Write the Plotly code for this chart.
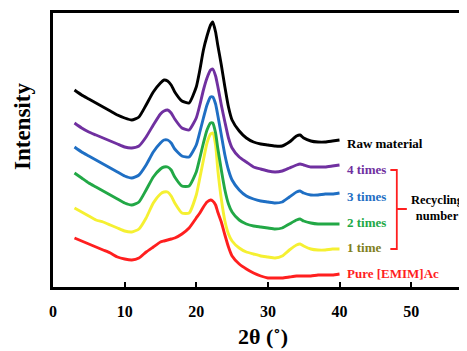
import plotly.graph_objects as go

two_theta = [3, 4, 5, 6, 7, 8, 9, 10, 11, 12, 13, 14, 15, 15.5, 16, 16.5, 17, 18, 19, 20,
             20.5, 21, 21.5, 22, 22.3, 22.7, 23, 23.5, 24, 24.5, 25, 26, 27, 28, 29, 30,
             31, 32, 33, 34, 34.5, 35, 36, 37, 38, 39, 40]

raw_material = [197, 192, 188, 184, 180, 176, 172, 169, 167, 170, 182, 195, 204, 207, 206, 202, 195,
                186, 184, 200, 217, 237, 251, 262, 265, 255, 242, 222, 200, 180, 167, 156, 149, 145,
                143, 142, 141, 141, 145, 151, 152, 149, 146, 145, 145, 146, 147]
times_4 = [164, 159, 155, 152, 149, 146, 143, 140, 139, 141, 150, 162, 173, 176, 177, 174, 168,
           159, 157, 169, 182, 197, 209, 217, 218, 211, 201, 182, 165, 149, 139, 130, 125, 120,
           118, 116, 115, 116, 119, 122, 123, 122, 120, 120, 120, 121, 122]
times_3 = [140, 135, 131, 127, 123, 119, 115, 111, 109, 112, 122, 135, 144, 147, 147, 144, 138,
           131, 130, 142, 155, 169, 182, 190, 190, 183, 172, 152, 132, 117, 107, 97, 91, 88,
           86, 85, 84, 85, 90, 95, 96, 94, 92, 92, 93, 93, 94]
times_2 = [114, 109, 104, 100, 96, 92, 88, 84, 82, 85, 97, 110, 118, 120, 120, 117, 110,
           101, 101, 115, 129, 144, 157, 164, 164, 154, 139, 117, 97, 83, 75, 67, 63, 61,
           60, 59, 58, 59, 63, 67, 68, 66, 64, 63, 63, 63, 63]
time_1 = [79, 75, 71, 67, 65, 62, 59, 56, 55, 58, 69, 84, 93, 95, 95, 91, 84,
          74, 74, 92, 109, 127, 144, 153, 154, 142, 118, 88, 66, 53, 46, 39, 35, 33,
          31, 30, 29, 31, 37, 42, 43, 41, 38, 37, 37, 38, 38]
pure_emimac = [49, 46, 43, 40, 37, 34, 30, 28, 27, 29, 35, 40, 45, 46, 47, 48, 49,
               53, 59, 69, 74, 80, 85, 87, 86, 82, 75, 65, 52, 40, 31, 23, 18, 14,
               11, 9, 9, 9, 10, 11, 11, 11, 11, 12, 12, 12, 13]

series_names = ["Pure [EMIM]Ac", "1 time", "2 times", "3 times", "4 times", "Raw material"]
series_values = [pure_emimac, time_1, times_2, times_3, times_4, raw_material]
line_colors = ["#ff1f1f", "#f5f032", "#22a846", "#1f6fc4", "#7030a0", "#000000"]
label_colors = ["#ff1f1f", "#808020", "#22a846", "#1f6fc4", "#7030a0", "#000000"]
label_y = [14, 40, 65, 91, 118, 144]
xticks = [0, 10, 20, 30, 40, 50]

SERIF = "Liberation Serif, Times New Roman, serif"

# the page body has an 8px margin, so the figure is drawn offset by (8, 8)
OFF = 8
W, H = 467 - OFF, 351 - OFF
ml, mt, mb = 53 - OFF, 13 - OFF, 64
plot_w = W - ml
plot_h = H - mt - mb


def px_to_paper(px, py):
    # px, py in window pixels
    return (px - OFF - ml) / plot_w, 1 - (py - OFF - mt) / plot_h


fig = go.Figure()
for name, vals, col in zip(series_names, series_values, line_colors):
    fig.add_trace(go.Scatter(x=two_theta, y=vals, mode="lines", name=name,
                             line=dict(color=col, width=2.9, shape="spline", smoothing=0.5),
                             showlegend=False))

for name, ly, col in zip(series_names, label_y, label_colors):
    fig.add_annotation(x=40.8, y=ly, xref="x", yref="y", text=name, showarrow=False,
                       xanchor="left", yanchor="middle",
                       font=dict(family=SERIF, size=13, color=col, weight="bold"))

# bracket
fig.add_shape(type="path", xref="x", yref="y",
              path="M 47.1 117 L 48.0 117 L 48.0 38 L 47.1 38 M 48.0 78 L 49.4 78",
              line=dict(color="#ff1f1f", width=1.8))
rx, ry = px_to_paper(437, 208)
fig.add_annotation(x=rx, y=ry, xref="paper", yref="paper", text="Recycling<br>number",
                   showarrow=False, xanchor="center", yanchor="middle", borderpad=0,
                   font=dict(family=SERIF, size=12.5, color="#000000", weight="bold"))

ix, iy = px_to_paper(22, 127)
fig.add_annotation(x=ix, y=iy, xref="paper", yref="paper", text="Intensity",
                   showarrow=False, textangle=-90, xanchor="center", yanchor="middle",
                   font=dict(family=SERIF, size=23, color="#000000", weight="bold"))
tx, ty = px_to_paper(263, 336)
fig.add_annotation(x=tx, y=ty, xref="paper", yref="paper", text="2θ (˚)",
                   showarrow=False, xanchor="center", yanchor="middle",
                   font=dict(family=SERIF, size=22, color="#000000", weight="bold"))

fig.update_layout(
    width=W, height=H,
    margin=dict(l=ml, r=0, t=mt, b=mb, autoexpand=False),
    plot_bgcolor="white", paper_bgcolor="white",
    xaxis=dict(range=[0, 57.8], tickvals=xticks, ticktext=[str(t) for t in xticks],
               automargin=False,
               showgrid=False, zeroline=False, showline=True, linecolor="black", linewidth=3,
               mirror=True, ticks="inside", ticklen=5, tickwidth=2, tickcolor="black",
               ticklabelstandoff=8,
               tickfont=dict(family=SERIF, size=16, color="black", weight="bold")),
    yaxis=dict(range=[0, 274], showticklabels=False, showgrid=False, zeroline=False,
               automargin=False,
               showline=True, linecolor="black", linewidth=3, ticks=""),
)

fig.write_html("out.html")
